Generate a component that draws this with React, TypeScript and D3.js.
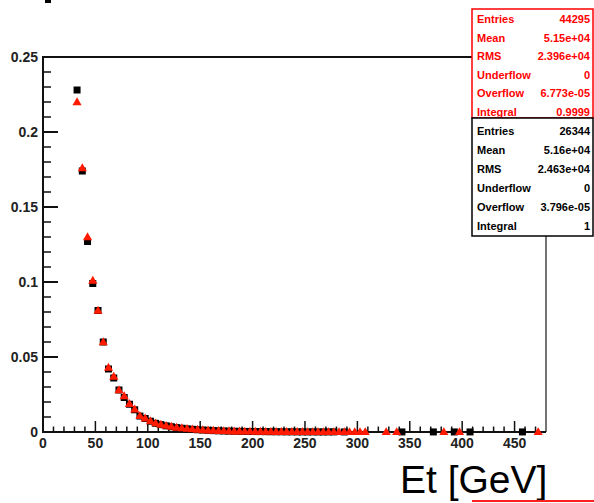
import React from "react";
import * as d3 from "d3";

// Bin layout: 5 GeV bins starting at 30 GeV
const binStart = 30;
const binWidth = 5;

// Normalised Et distributions (one value per bin, 0 = empty bin)
const redValues = [
  0.22, 0.176, 0.13, 0.101, 0.081, 0.06, 0.043, 0.037, 0.028, 0.024,
  0.0188, 0.0151, 0.0108, 0.0091, 0.0073, 0.0059, 0.005, 0.0042, 0.0036, 0.003,
  0.0026, 0.0022, 0.0019, 0.0016, 0.0013, 0.0011, 0.00095, 0.0008, 0.0007, 0.0006,
  0.0005, 0.00045, 0.0004, 0.00035, 0.0003, 0.00026, 0.00023, 0.0002, 0.00017, 0.00015,
  0.00013, 0.00011, 0.0001, 0.00009, 0.00007, 0.00006, 0.00005, 0.00005, 0.000045, 0.00003,
  0.00003, 0.000023, 0.000023, 0.000023, 0.000023, 0.000023, 0, 0, 0, 0.000023,
  0, 0.000023, 0, 0, 0, 0, 0, 0, 0, 0,
  0.000023, 0, 0, 0.000023, 0, 0, 0, 0, 0, 0,
  0, 0, 0, 0, 0, 0, 0, 0, 0.000023, 0,
];

const blackValues = [
  0.228, 0.174, 0.127, 0.099, 0.081, 0.06, 0.042, 0.036, 0.028, 0.023,
  0.0185, 0.0148, 0.0106, 0.009, 0.0072, 0.0058, 0.0049, 0.0041, 0.0035, 0.0029,
  0.0025, 0.0021, 0.0018, 0.0015, 0.0013, 0.0011, 0.0009, 0.00078, 0.00068, 0.00057,
  0.0005, 0.00042, 0.00038, 0.00034, 0.0003, 0.00027, 0.00023, 0.00019, 0.00015, 0.00015,
  0.00011, 0.00011, 0.000076, 0.000076, 0.000038, 0.000076, 0.000038, 0.000038, 0.000076, 0.000076,
  0, 0.000038, 0, 0, 0, 0, 0, 0, 0, 0,
  0, 0, 0.000038, 0, 0, 0, 0, 0, 0.000038, 0,
  0, 0, 0.000038, 0, 0, 0.000038, 0, 0, 0, 0,
  0, 0, 0, 0, 0, 0.000038, 0, 0, 0, 0,
];

// Axis ticks
const xMajorTicks = [0, 50, 100, 150, 200, 250, 300, 350, 400, 450];
const yMajorTicks = [0, 0.05, 0.1, 0.15, 0.2, 0.25];
const yTickLabels = ["0", "0.05", "0.1", "0.15", "0.2", "0.25"];

// Statistics boxes
const statLabels = ["Entries", "Mean", "RMS", "Underflow", "Overflow", "Integral"];
const redStats = ["44295", "5.15e+04", "2.396e+04", "0", "6.773e-05", "0.9999"];
const blackStats = ["26344", "5.16e+04", "2.463e+04", "0", "3.796e-05", "1"];

const W = 594;
const H = 503;
const font = "'Liberation Sans', Arial, Helvetica, sans-serif";

export default function App() {
  const x = d3.scaleLinear().domain([0, 480]).range([43, 546]);
  const y = d3.scaleLinear().domain([0, 0.25]).range([432, 57]);

  const xMinor = d3.range(0, 480, 10).filter((v) => v % 50 !== 0);
  const yMinor = d3.range(0, 0.2501, 0.01).filter((v) => Math.round(v * 100) % 5 !== 0);

  const toPoints = (vals: number[]) =>
    vals
      .map((v, i) => ({ cx: binStart + binWidth * (i + 0.5), v }))
      .filter((d) => d.v > 0);

  const black = toPoints(blackValues);
  const red = toPoints(redValues);

  const sq = 7;
  const tri = d3.symbol().type(d3.symbolTriangle).size(36)();

  const statBox = (
    top: number,
    bottom: number,
    firstRow: number,
    lastRow: number,
    values: string[],
    color: string
  ) => {
    const rows = d3.scaleLinear().domain([0, 5]).range([firstRow, lastRow]);
    return (
      <g>
        <rect x={472} y={top} width={121} height={bottom - top} fill="white" stroke={color} strokeWidth={1.5} />
        {statLabels.map((lab, i) => (
          <g key={lab}>
            <text x={477} y={rows(i) + 4} fontSize={11} fontWeight="bold" fill={color} fontFamily={font}>
              {lab}
            </text>
            <text x={590} y={rows(i) + 4} fontSize={11} fontWeight="bold" fill={color} fontFamily={font} textAnchor="end">
              {values[i]}
            </text>
          </g>
        ))}
      </g>
    );
  };

  return (
    <svg
      width={W}
      height={H}
      style={{ position: "absolute", left: 0, top: 0, background: "white" }}
    >
      <rect x={0} y={0} width={W} height={H} fill="white" />
      <rect x={45} y={0} width={6} height={3} fill="black" />

      {/* frame */}
      <line x1={x(0)} x2={x(480)} y1={y(0.25)} y2={y(0.25)} stroke="#111" strokeWidth={2} />
      <line x1={x(480)} x2={x(480)} y1={y(0.25)} y2={y(0)} stroke="#444" strokeWidth={1.5} />

      {/* y axis */}
      <line x1={x(0)} x2={x(0)} y1={y(0) + 1} y2={y(0.25) - 1} stroke="#111" strokeWidth={2} />
      {yMajorTicks.map((t, i) => (
        <g key={t}>
          <line x1={x(0)} x2={x(0) + 15} y1={y(t)} y2={y(t)} stroke="#111" strokeWidth={2} />
          <text
            x={38}
            y={y(t) + 5}
            fontSize={14}
            fontWeight="bold"
            fontFamily={font}
            textAnchor="end"
            fill="#222"
          >
            {yTickLabels[i]}
          </text>
        </g>
      ))}
      {yMinor.map((t) => (
        <line key={t} x1={x(0)} x2={x(0) + 8} y1={y(t)} y2={y(t)} stroke="#111" strokeWidth={1.5} />
      ))}

      {/* x axis */}
      <line x1={x(0) - 1} x2={x(480)} y1={y(0)} y2={y(0)} stroke="#111" strokeWidth={2} />
      {xMajorTicks.map((t) => (
        <g key={t}>
          <line x1={x(t)} x2={x(t)} y1={y(0)} y2={y(0) - 11} stroke="#111" strokeWidth={1.5} />
          <text
            x={x(t)}
            y={448}
            fontSize={14}
            fontWeight="bold"
            fontFamily={font}
            textAnchor="middle"
            fill="#222"
          >
            {t}
          </text>
        </g>
      ))}
      {xMinor.map((t) => (
        <line key={t} x1={x(t)} x2={x(t)} y1={y(0)} y2={y(0) - 5.5} stroke="#111" strokeWidth={1.5} />
      ))}

      {/* black squares */}
      {black.map((d) => (
        <rect
          key={"b" + d.cx}
          x={x(d.cx) - sq / 2}
          y={y(d.v) - sq / 2}
          width={sq}
          height={sq}
          fill="black"
        />
      ))}
      {/* red triangles */}
      {red.map((d) => (
        <path
          key={"r" + d.cx}
          d={tri as string}
          transform={`translate(${x(d.cx)},${y(d.v) + 0.5})`}
          fill="#ff1a00"
        />
      ))}

      {/* statistics boxes */}
      {statBox(9, 118, 19, 112, redStats, "#ff0000")}
      {statBox(118, 236, 131, 226, blackStats, "#000000")}

      {/* axis title */}
      <text x={400} y={493} fontSize={39} fontFamily={font} fill="black">
        Et [GeV]
      </text>
      <line x1={472} x2={594} y1={501} y2={501} stroke="#ff2020" strokeWidth={2} />
    </svg>
  );
}
